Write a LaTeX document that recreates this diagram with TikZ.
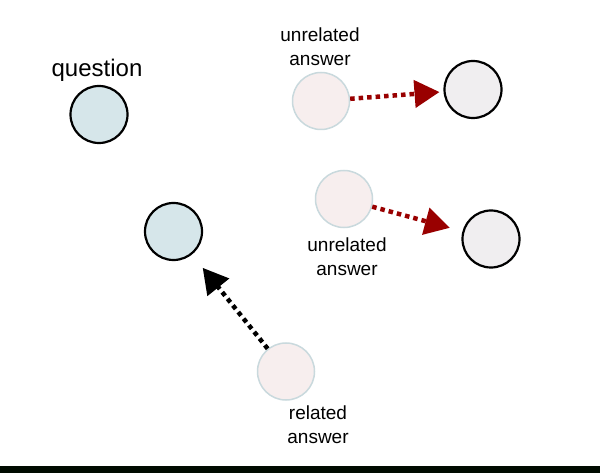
\documentclass[tikz,border=0pt]{standalone}
\usepackage{fontspec}
\setmainfont{Liberation Sans}
\usetikzlibrary{arrows.meta}
\definecolor{qfill}{HTML}{D6E6EA}
\definecolor{afill}{HTML}{F7EEEE}
\definecolor{aedge}{HTML}{C9D9DD}
\definecolor{tfill}{HTML}{F0EEF0}
\definecolor{darkred}{HTML}{990000}
\definecolor{barcol}{HTML}{000A00}
\tikzset{
  qnode/.style={circle, draw=black, line width=2.2pt, fill=qfill, minimum size=57pt, inner sep=0pt},
  anode/.style={circle, draw=aedge, line width=1.5pt, fill=afill, minimum size=57pt, inner sep=0pt},
  tnode/.style={circle, draw=black, line width=2.2pt, fill=tfill, minimum size=57pt, inner sep=0pt},
  lbl/.style={align=center, inner sep=0pt, font=\fontsize{19}{24}\selectfont},
  dotarrow/.style={line width=4.5pt, dash pattern=on 4.5pt off 4pt, -{Triangle[length=25pt,width=27pt]}},
}
\begin{document}
\begin{tikzpicture}[x=1pt,y=-1pt]
\useasboundingbox (0,0) rectangle (600,473);
\fill[white] (0,0) rectangle (600,473);
\fill[barcol] (0,466) rectangle (600,473);

\node[inner sep=0pt, font=\fontsize{24}{28}\selectfont] (qlbl) at (97,70) {question};
\node[qnode] (q) at (99,114.5) {};
\node[qnode] (q2) at (173.5,231.5) {};

\node[lbl] (ulbl1) at (320,47) {unrelated\\answer};
\node[anode] (ua1) at (321,101) {};
\node[tnode] (t1) at (473,89.5) {};

\node[anode] (ua2) at (344,199) {};
\node[lbl] (ulbl2) at (347,257) {unrelated\\answer};
\node[tnode] (t2) at (491,239) {};

\node[anode] (ra) at (286,371.5) {};
\node[lbl] (rlbl) at (318,425) {related\\answer};

\draw[dotarrow, darkred, shorten >=4pt] (ua1) -- (t1);
\draw[dotarrow, darkred, shorten >=13pt] (ua2) -- (t2);
\draw[dotarrow, black, shorten >=17pt] (ra) -- (q2);
\end{tikzpicture}
\end{document}
